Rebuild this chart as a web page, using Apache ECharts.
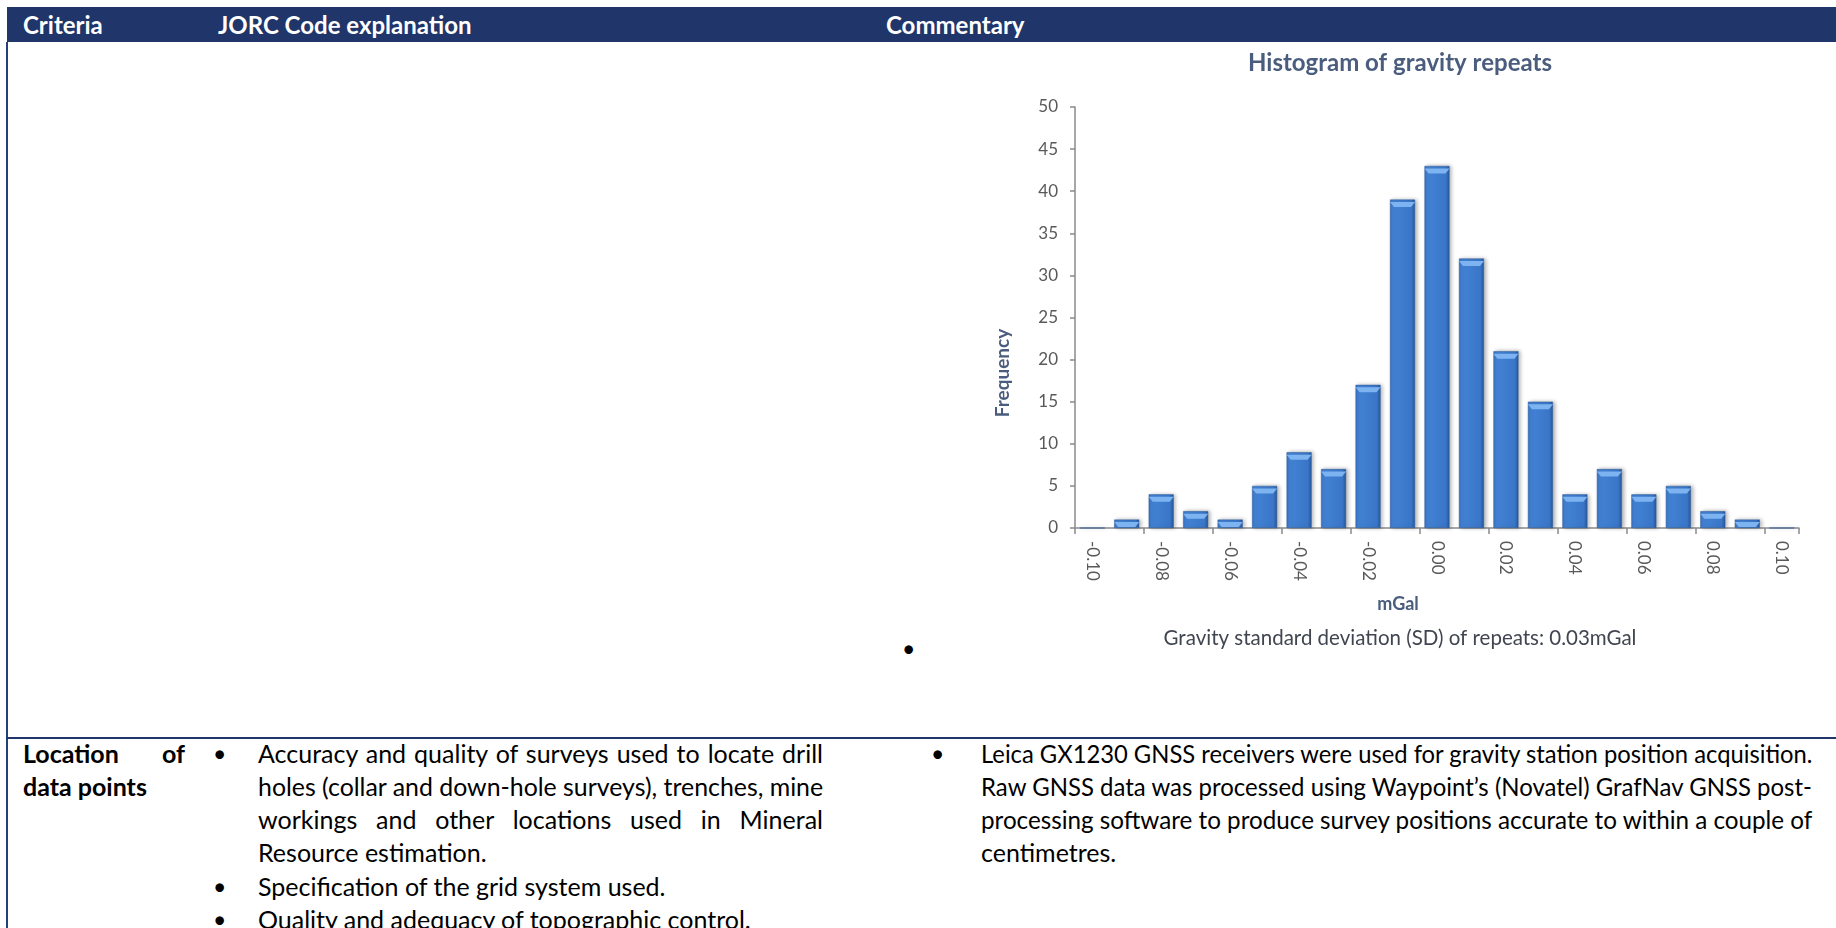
<!DOCTYPE html>
<html>
<head>
<meta charset="utf-8">
<title>Histogram of gravity repeats</title>
<script src="https://cdn.jsdelivr.net/npm/echarts@6/dist/echarts.min.js"></script>
<style>
  html, body { margin: 0; padding: 0; width: 1836px; height: 928px; overflow: hidden; background: #fff; font-family: Lato, "Open Sans", sans-serif; }
  #header { position: absolute; left: 7px; top: 7px; width: 1829px; height: 35px; background: #203569; }
  .hd { position: absolute; top: 0; line-height: 35px; color: #fff; font-weight: bold; font-size: 24px; }
  #leftBorder { position: absolute; left: 6px; top: 42px; width: 2px; height: 886px; background: #24407a; }
  #rowLine { position: absolute; left: 6px; top: 737px; width: 1830px; height: 2px; background: #203569; }
  .t { position: absolute; font-size: 25px; line-height: 33px; height: 33px; color: #000; white-space: nowrap; text-align: left; }
  .j { text-align: justify; text-align-last: justify; }
  .b { font-weight: bold; }
  .bul { position: absolute; font-size: 23px; line-height: 33px; color: #000; }
  #chart { position: absolute; left: 0; top: 0; width: 1836px; height: 928px; z-index: 1; }
</style>
</head>
<body>
  <div id="header">
    <div class="hd" style="left: 16px;">Criteria</div>
    <div class="hd" style="left: 211px;">JORC Code explanation</div>
    <div class="hd" style="left: 879px;">Commentary</div>
  </div>
  <div id="leftBorder"></div>
  <div id="rowLine"></div>

  <!-- bullet left over under the picture -->
  <div class="bul" style="left: 902px; top: 632px;">•</div>

  <!-- criteria column -->
  <div class="t j b" style="left: 23px; top: 737px; width: 162px;">Location of</div>
  <div class="t b" style="left: 23px; top: 770px; width: 162px;">data points</div>

  <!-- JORC column -->
  <div class="bul" style="left: 213px; top: 737px;">•</div>
  <div class="t j" style="left: 258px; top: 737px; width: 565px;">Accuracy and quality of surveys used to locate drill</div>
  <div class="t j" style="left: 258px; top: 770px; width: 565px;">holes (collar and down-hole surveys), trenches, mine</div>
  <div class="t j" style="left: 258px; top: 803px; width: 565px;">workings and other locations used in Mineral</div>
  <div class="t" style="left: 258px; top: 836px; width: 565px;">Resource estimation.</div>
  <div class="bul" style="left: 213px; top: 870px;">•</div>
  <div class="t" style="left: 258px; top: 870px; width: 565px;">Specification of the grid system used.</div>
  <div class="bul" style="left: 213px; top: 903px;">•</div>
  <div class="t" style="left: 258px; top: 903px; width: 565px;">Quality and adequacy of topographic control.</div>

  <!-- commentary column -->
  <div class="bul" style="left: 931px; top: 737px;">•</div>
  <div class="t j" style="left: 981px; top: 737px; width: 831px;">Leica GX1230 GNSS receivers were used for gravity station position acquisition.</div>
  <div class="t j" style="left: 981px; top: 770px; width: 831px;">Raw GNSS data was processed using Waypoint’s (Novatel) GrafNav GNSS post-</div>
  <div class="t j" style="left: 981px; top: 803px; width: 831px;">processing software to produce survey positions accurate to within a couple of</div>
  <div class="t" style="left: 981px; top: 836px; width: 831px;">centimetres.</div>

  <div id="chart"></div>

<script>
  // bins of the histogram (mGal) and the counts
  var binLabels = ['-0.10', '-0.09', '-0.08', '-0.07', '-0.06', '-0.05', '-0.04', '-0.03', '-0.02', '-0.01',
    '0.00', '0.01', '0.02', '0.03', '0.04', '0.05', '0.06', '0.07', '0.08', '0.09', '0.10']
  var frequency = [0, 1, 4, 2, 1, 5, 9, 7, 17, 39, 43, 32, 21, 15, 4, 7, 4, 5, 2, 1, 0]

  // frequency axis
  var yMin = 0
  var yMax = 50
  var yStep = 5

  var titleText = 'Histogram of gravity repeats'
  var xTitle = 'mGal'
  var yTitle = 'Frequency'
  var noteText = 'Gravity standard deviation (SD) of repeats: 0.03mGal'

  // squeeze lines that are wider than their column
  document.querySelectorAll('.t').forEach(function (el) {
    var w = el.clientWidth
    var s = el.scrollWidth
    if (s > w + 1) {
      el.style.width = s + 'px'
      el.style.transformOrigin = '0 0'
      el.style.transform = 'scaleX(' + (w / s) + ')'
    }
  })

  var chart = echarts.init(document.getElementById('chart'), null, { renderer: 'canvas' })

  var titleColor = '#4b5d7e'
  var axisColor = '#8a8a8a'
  var labelColor = '#595959'

  var option = {
    animation: false,
    textStyle: { fontFamily: 'Lato' },
    grid: { left: 1075, top: 107, width: 724, height: 421, outerBoundsMode: 'none' },
    xAxis: {
      type: 'category',
      data: binLabels,
      axisLine: { lineStyle: { color: axisColor, width: 1.5 } },
      axisTick: { show: true, length: 6, lineStyle: { color: axisColor, width: 1.5 } },
      axisLabel: { rotate: -90, interval: 1, margin: 13, fontSize: 17, color: labelColor }
    },
    yAxis: {
      type: 'value',
      min: yMin,
      max: yMax,
      interval: yStep,
      axisLine: { show: true, lineStyle: { color: axisColor, width: 1.5 } },
      axisTick: { show: true, length: 5, lineStyle: { color: axisColor, width: 1.5 } },
      splitLine: { show: false },
      axisLabel: { margin: 17, fontSize: 17, color: labelColor }
    },
    graphic: [
      { type: 'text', x: 1400, y: 63, style: { text: titleText, align: 'center', verticalAlign: 'middle', font: 'bold 24px Lato', fill: titleColor } },
      { type: 'text', x: 1398, y: 604, style: { text: xTitle, align: 'center', verticalAlign: 'middle', font: 'bold 18px Lato', fill: titleColor } },
      { type: 'text', x: 1003, y: 373, rotation: Math.PI / 2, style: { text: yTitle, align: 'center', verticalAlign: 'middle', font: 'bold 19px Lato', fill: titleColor } },
      { type: 'text', x: 1400, y: 638, style: { text: noteText, align: 'center', verticalAlign: 'middle', font: '20.5px Lato', fill: '#404550' } }
    ],
    series: [
      {
        type: 'bar',
        data: frequency,
        barWidth: 25,
        itemStyle: {
          color: new echarts.graphic.LinearGradient(0, 0, 1, 0, [
            { offset: 0, color: '#3a72c2' },
            { offset: 0.12, color: '#4282d4' },
            { offset: 0.85, color: '#3a76c8' },
            { offset: 1, color: '#27579a' }
          ]),
          borderColor: '#2a5a9c',
          borderWidth: 0.5,
          shadowBlur: 4,
          shadowColor: 'rgba(0, 0, 0, 0.3)',
          shadowOffsetX: 2
        }
      },
      {
        // light bevel on top of each bar
        type: 'pictorialBar',
        data: frequency.map(function (v) { return v === 0 ? '-' : v }),
        symbol: 'path://M0,0 L25,0 L21,5 L4,5 Z',
        symbolSize: [25, 5],
        symbolPosition: 'end',
        symbolOffset: [0, '50%'],
        z: 3,
        itemStyle: { color: '#7db3f0' }
      }
    ]
  }

  chart.setOption(option)
</script>
</body>
</html>
